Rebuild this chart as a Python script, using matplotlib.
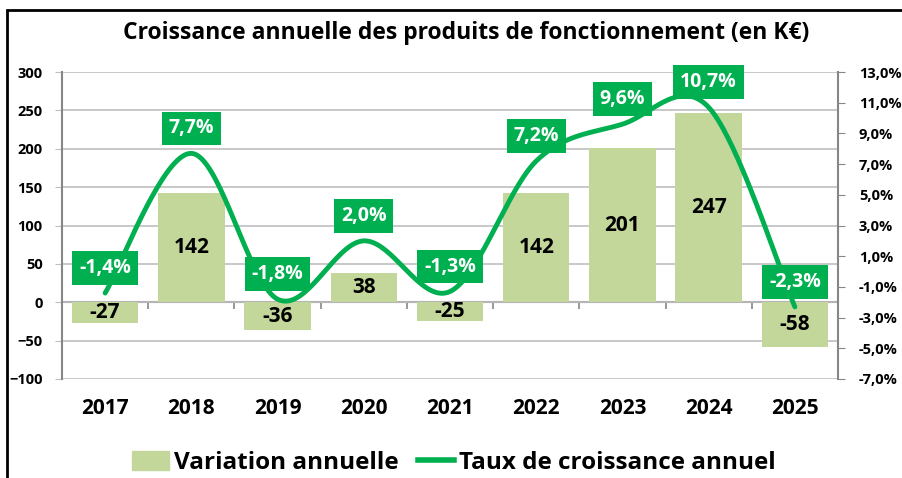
import numpy as np
import matplotlib
matplotlib.use("Agg")
import matplotlib.pyplot as plt
from matplotlib.patches import Rectangle, Patch
from matplotlib.lines import Line2D
from matplotlib.ticker import FuncFormatter

plt.rcParams['font.family'] = ['Open Sans', 'DejaVu Sans']
plt.rcParams['font.weight'] = 'bold'

years = ['2017', '2018', '2019', '2020', '2021', '2022', '2023', '2024', '2025']
variation = [-27, 142, -36, 38, -25, 142, 201, 247, -58]
taux = [-1.4, 7.7, -1.8, 2.0, -1.3, 7.2, 9.6, 10.7, -2.3]

bar_color = '#c4d79b'
line_color = '#00b050'
axis_gray = '#868686'


def smooth(xs, ys, n=40):
    # courbe lissée façon Excel (Bezier / Catmull-Rom)
    p = np.column_stack([xs, ys]).astype(float)
    out = []
    for i in range(len(p) - 1):
        p0 = p[i - 1] if i > 0 else p[i]
        p1, p2 = p[i], p[i + 1]
        p3 = p[i + 2] if i + 2 < len(p) else p[i + 1]
        b1 = p1 + (p2 - p0) / 6
        b2 = p2 - (p3 - p1) / 6
        t = np.linspace(0, 1, n)[:, None]
        seg = ((1 - t) ** 3) * p1 + 3 * ((1 - t) ** 2) * t * b1 + 3 * (1 - t) * t ** 2 * b2 + t ** 3 * p2
        out.append(seg if i == 0 else seg[1:])
    s = np.vstack(out)
    return s[:, 0], s[:, 1]


fig = plt.figure(figsize=(9.03, 4.78), dpi=100)
ax = fig.add_axes([62 / 903, 1 - 379 / 478, (838 - 62) / 903, (379 - 72) / 478])
ax2 = ax.twinx()

x = np.arange(len(years))
bars = ax.bar(x, variation, width=0.77, color=bar_color, zorder=2)
for xi, v in zip(x, variation):
    ax.text(xi, v / 2, str(v), ha='center', va='center', fontsize=15,
            fontweight='bold', color='black', zorder=3)

ax.set_ylim(-100, 300)
ax.set_yticks(range(-100, 301, 50))
ax.set_xlim(-0.5, len(years) - 0.5)
ax.yaxis.grid(True, color='#bfbfbf', lw=1.2, zorder=0)
ax.set_axisbelow(True)
ax.set_xticks(x)
ax.set_xticklabels(years, fontsize=15, fontweight='bold')
ax.tick_params(axis='x', length=0, pad=14)
ax.tick_params(axis='y', labelsize=10.5, length=5, color='#bfbfbf', pad=9)
for s in ['top', 'bottom', 'right']:
    ax.spines[s].set_visible(False)
ax.spines['left'].set_color(axis_gray)
ax.spines['left'].set_linewidth(1.5)

# axe des catégories sur le zéro
sec = ax.secondary_xaxis(100 / 400)
sec.set_xticks(np.arange(len(years) + 1) - 0.5)
sec.set_xticklabels([])
sec.tick_params(length=5, color=axis_gray, width=1.2)
sec.spines['bottom'].set_color(axis_gray)
sec.spines['bottom'].set_linewidth(1.5)

sx, sy = smooth(x, taux)
ax2.plot(sx, sy, color=line_color, lw=3.5, solid_capstyle='round', zorder=4)
for xi, t in zip(x, taux):
    ax2.annotate(f"{t:.1f}%".replace('.', ','), (xi, t), xytext=(0, 18),
                 textcoords='offset points', ha='center', va='center',
                 fontsize=14, fontweight='bold', color='white', zorder=5,
                 bbox=dict(boxstyle='square,pad=0.35', fc=line_color, ec='none'))
ax2.set_ylim(-7, 13)
ax2.set_yticks(range(-7, 14, 2))
ax2.yaxis.set_major_formatter(FuncFormatter(lambda v, p: f"{v:.1f}%".replace('.', ',')))
ax2.tick_params(axis='y', labelsize=10.5, length=5, color=axis_gray, pad=10)
for s in ['top', 'bottom', 'left']:
    ax2.spines[s].set_visible(False)
ax2.spines['right'].set_color(axis_gray)
ax2.spines['right'].set_linewidth(1.5)

fig.text(466 / 903, 1 - 33 / 478, 'Croissance annuelle des produits de fonctionnement (en K€)',
         ha='center', va='center', fontsize=16.5, fontweight='bold')

handles = [Patch(color=bar_color, label='Variation annuelle'),
           Line2D([], [], color=line_color, lw=4, label='Taux de croissance annuel')]
fig.legend(handles=handles, loc='center', bbox_to_anchor=(454 / 903, 1 - 463 / 478),
           ncol=2, frameon=False, prop={'size': 17.5, 'weight': 'bold'},
           handlelength=1.5, handleheight=0.8, handletextpad=0.2, columnspacing=0.8)

fig.patches.append(Rectangle((7 / 903, -0.05), 1.0, 1 - 10 / 478 + 0.05, transform=fig.transFigure,
                             fill=False, ec='black', lw=2))

fig.savefig('out.png', dpi=100, facecolor='white')
